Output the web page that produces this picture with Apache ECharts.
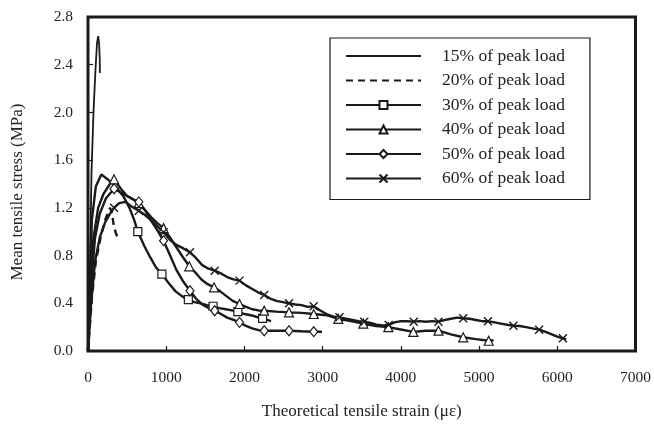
<!DOCTYPE html>
<html>
<head>
<meta charset="utf-8">
<script src="https://cdn.jsdelivr.net/npm/echarts@6/dist/echarts.min.js"></script>
<style>html,body{margin:0;padding:0;background:#fff;}#c{width:654px;height:429px;}</style>
</head>
<body>
<div id="c"></div>
<script>
// ---- data ----
const seriesNames = ['15% of peak load','20% of peak load','30% of peak load','40% of peak load','50% of peak load','60% of peak load'];

const s15x = [0,20,45,70,95,115,130,142,150,152];
const s15y = [0,0.5,1.5,2.0,2.35,2.58,2.64,2.58,2.45,2.33];

const s20x = [0,50,100,160,220,280,304,329,360,396];
const s20y = [0,0.45,0.75,0.95,1.10,1.20,1.17,1.05,0.98,0.93];

const s30x = [0,20,50,100,170,250,350,450,530,590,637,720,800,870,945,1030,1120,1200,1283,1360,1440,1520,1599,1680,1760,1840,1916,2000,2080,2160,2232,2340];
const s30y = [0,0.5,1.1,1.38,1.48,1.44,1.38,1.30,1.20,1.10,1.00,0.88,0.78,0.70,0.645,0.57,0.50,0.46,0.43,0.41,0.40,0.385,0.375,0.36,0.35,0.34,0.33,0.31,0.30,0.285,0.274,0.25];
const s30m = [0,0,0,0,0,0,0,0,0,0,1,0,0,0,1,0,0,0,1,0,0,0,1,0,0,0,1,0,0,0,1,0];

const s40x = [0,30,70,130,200,280,333,420,500,580,650,730,810,890,966,1050,1130,1210,1295,1370,1450,1530,1612,1690,1770,1850,1937,2020,2100,2180,2253,2410,2570,2730,2886,3050,3200,3360,3520,3680,3840,4000,4160,4320,4481,4640,4797,4960,5123,5185];
const s40y = [0,0.5,0.95,1.2,1.32,1.40,1.44,1.36,1.30,1.27,1.24,1.18,1.12,1.07,1.03,0.95,0.87,0.79,0.71,0.66,0.60,0.56,0.534,0.50,0.46,0.42,0.394,0.37,0.35,0.34,0.338,0.33,0.324,0.32,0.31,0.30,0.27,0.25,0.23,0.21,0.20,0.18,0.16,0.17,0.17,0.14,0.115,0.10,0.086,0.09];
const s40m = [0,0,0,0,0,0,1,0,0,0,1,0,0,0,1,0,0,0,1,0,0,0,1,0,0,0,1,0,0,0,1,0,1,0,1,0,1,0,1,0,1,0,1,0,1,0,1,0,1,0];

const s50x = [0,40,90,150,230,333,420,500,580,650,730,800,880,966,1050,1130,1220,1304,1380,1460,1540,1620,1700,1780,1860,1937,2020,2100,2180,2253,2410,2570,2730,2886,2991];
const s50y = [0,0.55,0.95,1.15,1.28,1.36,1.33,1.30,1.27,1.25,1.18,1.10,1.02,0.925,0.80,0.68,0.58,0.505,0.44,0.39,0.36,0.338,0.31,0.28,0.26,0.24,0.21,0.19,0.175,0.17,0.17,0.17,0.165,0.162,0.162];
const s50m = [0,0,0,0,0,1,0,0,0,1,0,0,0,1,0,0,0,1,0,0,0,1,0,0,0,1,0,0,0,1,0,1,0,1,0];

const s60x = [0,40,90,150,220,280,333,400,480,560,650,730,800,880,966,1050,1130,1220,1304,1380,1460,1540,1620,1700,1780,1860,1937,2020,2100,2180,2253,2330,2410,2490,2570,2650,2730,2810,2886,2970,3050,3130,3215,3300,3380,3460,3532,3610,3690,3770,3844,3920,4000,4080,4165,4240,4320,4400,4481,4560,4640,4720,4797,4880,4960,5040,5114,5200,5280,5360,5439,5520,5600,5680,5768,5850,5930,6000,6072,6114];
const s60y = [0,0.4,0.75,0.95,1.08,1.15,1.20,1.24,1.25,1.21,1.176,1.14,1.10,1.05,0.995,0.93,0.89,0.86,0.827,0.78,0.72,0.69,0.673,0.65,0.62,0.60,0.59,0.55,0.52,0.49,0.47,0.44,0.42,0.41,0.40,0.39,0.385,0.37,0.375,0.34,0.31,0.29,0.282,0.27,0.26,0.25,0.246,0.235,0.22,0.215,0.218,0.24,0.25,0.25,0.246,0.25,0.245,0.25,0.246,0.26,0.27,0.28,0.274,0.27,0.26,0.25,0.249,0.24,0.23,0.22,0.212,0.21,0.20,0.19,0.179,0.16,0.14,0.12,0.106,0.10];
const s60m = [0,0,0,0,0,0,1,0,0,0,1,0,0,0,1,0,0,0,1,0,0,0,1,0,0,0,1,0,0,0,1,0,0,0,1,0,0,0,1,0,0,0,1,0,0,0,1,0,0,0,1,0,0,0,1,0,0,0,1,0,0,0,1,0,0,0,1,0,0,0,1,0,0,0,1,0,0,0,1,0];

// ---- build ----
function pts(xs, ys, ms) {
  return xs.map((x, i) => {
    const it = { value: [x, ys[i]] };
    if (!ms || !ms[i]) it.symbol = 'none';
    return it;
  });
}
const FONT = 'Liberation Serif';
const INK = '#1a1a1a';
const TXT = '#222';
const mk = { color: '#fff', borderColor: INK, borderWidth: 1.2 };
const hidden = { color: 'rgba(0,0,0,0)', borderColor: 'rgba(0,0,0,0)', borderWidth: 0 };
const crossPath = 'path://M0,0L10,10M10,0L0,10';

function lineSeries(name, data, symbol, size, extra) {
  return Object.assign({
    type: 'line', name: name, data: data,
    symbol: symbol, symbolSize: size, showAllSymbol: true,
    lineStyle: { color: INK, width: 2.4 },
    itemStyle: mk,
    emphasis: { disabled: true }, animation: false
  }, extra || {});
}

const chart = echarts.init(document.getElementById('c'));
chart.setOption({
  animation: false,
  backgroundColor: '#fff',
  grid: { left: 88, right: 15, top: 17, bottom: 78, show: true, borderColor: INK, borderWidth: 3 },
  xAxis: {
    type: 'value', min: 0, max: 7000, interval: 1000,
    name: 'Theoretical tensile strain (\u03bc\u03b5)', nameLocation: 'middle', nameGap: 52,
    nameTextStyle: { fontFamily: FONT, fontSize: 17, color: TXT },
    axisLine: { show: false },
    axisTick: { show: true, inside: true, length: 5, lineStyle: { color: INK, width: 1.2 } },
    axisLabel: { fontFamily: FONT, fontSize: 15.5, color: TXT, margin: 19, formatter: v => String(v) },
    splitLine: { show: false }
  },
  yAxis: {
    type: 'value', min: 0, max: 2.8, interval: 0.4,
    name: 'Mean tensile stress (MPa)', nameLocation: 'middle', nameGap: 62,
    nameTextStyle: { fontFamily: FONT, fontSize: 17, color: TXT, padding: [0, 16, 0, 0] },
    axisLine: { show: false },
    axisTick: { show: true, inside: true, length: 5, lineStyle: { color: INK, width: 1.2 } },
    axisLabel: { fontFamily: FONT, fontSize: 15.5, color: TXT, margin: 15, formatter: v => v.toFixed(1) },
    splitLine: { show: false }
  },
  legend: {
    orient: 'vertical', left: 330, top: 38,
    padding: [9, 25, 12, 15],
    borderColor: INK, borderWidth: 1.2,
    itemWidth: 75, itemHeight: 10, itemGap: 6.5,
    textStyle: { fontFamily: FONT, fontSize: 17.5, color: TXT, padding: [0, 0, 0, 16] },
    data: seriesNames
  },
  series: [
    lineSeries(seriesNames[0], pts(s15x, s15y), 'circle', 0, { lineStyle: { color: INK, width: 1.8 }, itemStyle: hidden }),
    lineSeries(seriesNames[1], pts(s20x, s20y), 'circle', 0, { lineStyle: { color: INK, width: 2.4, type: [7, 5] }, itemStyle: hidden }),
    lineSeries(seriesNames[2], pts(s30x, s30y, s30m), 'rect', 8),
    lineSeries(seriesNames[3], pts(s40x, s40y, s40m), 'triangle', 9),
    lineSeries(seriesNames[4], pts(s50x, s50y, s50m), 'diamond', [8, 10]),
    lineSeries(seriesNames[5], pts(s60x, s60y, s60m), crossPath, 8, { itemStyle: { color: '#fff', borderColor: INK, borderWidth: 1.4 } })
  ]
});
</script>
</body>
</html>
